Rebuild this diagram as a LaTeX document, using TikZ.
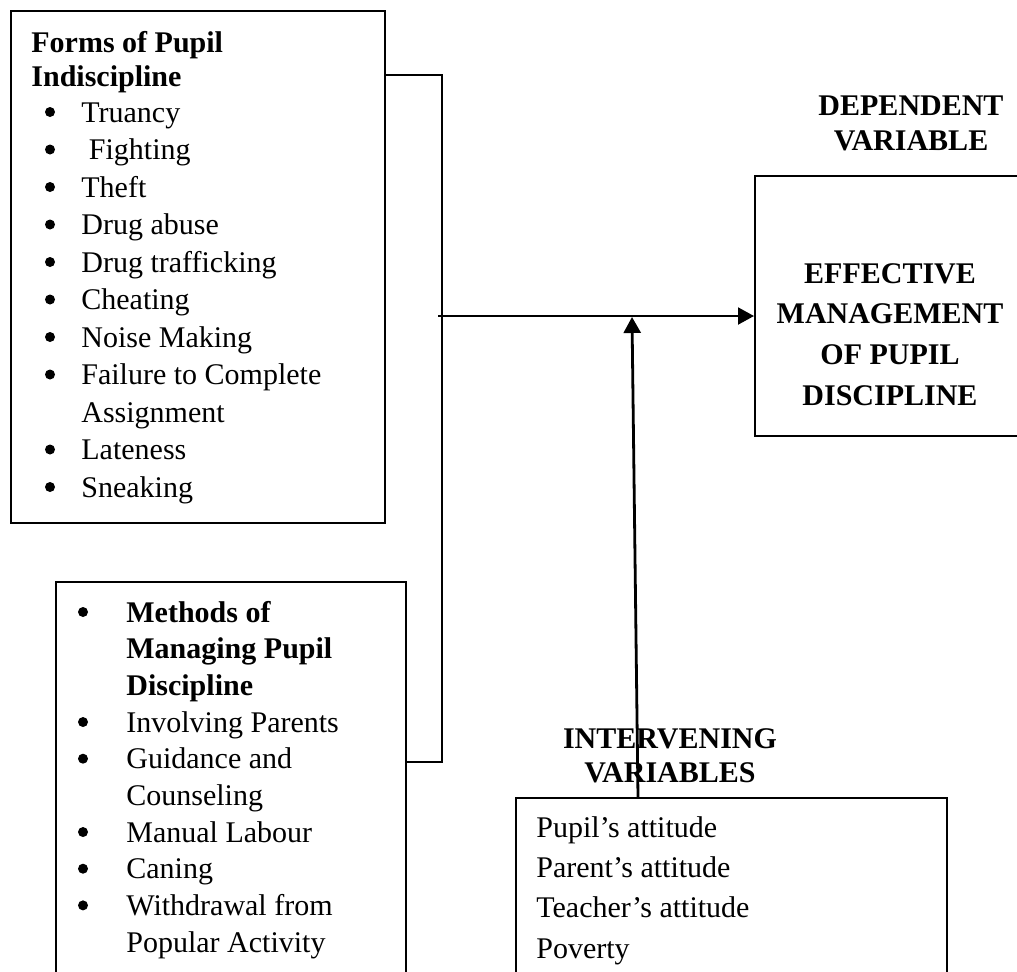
\documentclass[tikz,border=0pt]{standalone}
\usepackage{fontspec}
\setmainfont{Liberation Serif}
\usetikzlibrary{arrows.meta}
\tikzset{
	box/.style={draw,line width=1pt,anchor=north west,inner sep=0pt},
	item/.style={anchor=base west,inner sep=0pt,font=\fontsize{15}{18}\selectfont},
	head/.style={item,font=\fontsize{15}{18}\selectfont\bfseries},
	title/.style={anchor=base,inner sep=0pt,font=\fontsize{15}{18}\selectfont\bfseries},
	dot/.style={circle,fill,inner sep=0pt,minimum size=5pt},
	link/.style={line width=1pt},
	toarrow/.style={-{Triangle[length=8pt,width=8.5pt]}},
}
\begin{document}
\begin{tikzpicture}[x=0.5pt,y=-0.5pt]
	\useasboundingbox (0,0) rectangle (1017,971);
	\clip (0,0) rectangle (1017,971);
	% boxes
	\node[box,minimum width=187pt,minimum height=256pt] (forms) at (10,10) {};
	\node[box,minimum width=175pt,minimum height=209.5pt] (methods) at (55,581) {};
	\node[box,minimum width=153pt,minimum height=130pt] (effective) at (754,175) {};
	\node[box,minimum width=215.5pt,minimum height=101.5pt] (attitudes) at (515,797) {};
	% forms of indiscipline
	\node[head] (fh1) at (31,52) {Forms of Pupil};
	\node[head] (fh2) at (31,86) {Indiscipline};
	\foreach \txt [count=\i from 0] in {Truancy,\ Fighting,Theft,Drug abuse,Drug trafficking,Cheating,Noise Making,Failure to Complete,Assignment,Lateness,Sneaking}
		\node[item] (fi\i) at (81,{122+37.5*\i}) {\txt};
	\foreach \i in {0,...,7,9,10}
		\node[dot] (fb\i) at (50,{112+37.5*\i}) {};
	% methods of managing
	\foreach \txt [count=\i from 0] in {Methods of,Managing Pupil,Discipline}
		\node[head] (mh\i) at (126,{622+36.67*\i}) {\txt};
	\foreach \txt [count=\i from 3] in {Involving Parents,Guidance and,Counseling,Manual Labour,Caning,Withdrawal from,Popular Activity}
		\node[item] (mi\i) at (126,{622+36.67*\i}) {\txt};
	\foreach \i in {0,3,4,6,7,8}
		\node[dot] (mb\i) at (83,{612+36.67*\i}) {};
	% dependent variable
	\node[title] (dep1) at (911,115) {DEPENDENT};
	\node[title] (dep2) at (911,150) {VARIABLE};
	\foreach \txt [count=\i from 0] in {EFFECTIVE,MANAGEMENT,OF PUPIL,DISCIPLINE}
		\node[title] (ef\i) at (890,{283+40.7*\i}) {\txt};
	% intervening variables
	\node[title] (int1) at (670,748) {INTERVENING};
	\node[title] (int2) at (670,782) {VARIABLES};
	\foreach \txt [count=\i from 0] in {Pupil’s attitude,Parent’s attitude,Teacher’s attitude,Poverty}
		\node[item] (at\i) at (536,{837+40.33*\i}) {\txt};
	% connectors
	\coordinate (bt) at (442,75);
	\coordinate (bb) at (442,762);
	\coordinate (hub) at (438,316);
	\coordinate (foot) at (638,797);
	\coordinate (meet) at (632,317);
	\draw[link] (forms.east |- bt) -- (bt) -- (bb) -- (methods.east |- bb);
	\draw[link,toarrow] (hub) -- (hub -| effective.west);
	\draw[line width=1.4pt,toarrow] (foot) -- (meet);
\end{tikzpicture}
\end{document}
